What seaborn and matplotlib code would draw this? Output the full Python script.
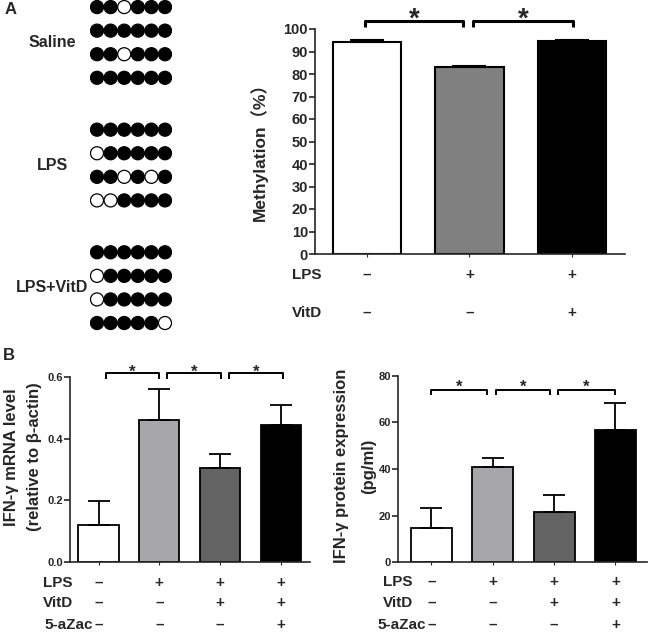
import pandas as pd
import matplotlib.pyplot as plt
import matplotlib.transforms as mtransforms
import seaborn as sns

# bisulfite clones: 1 = methylated CpG (filled), 0 = unmethylated (open)
clone_groups = ['Saline', 'LPS', 'LPS+VitD']
clone_patterns = [
    ['110111', '111111', '110111', '111111'],
    ['111111', '011111', '110101', '001111'],
    ['111111', '011111', '011111', '111110'],
]

# panel A: methylation (%)
a_groups = ['Saline', 'LPS', 'LPS+VitD']
a_mean = [94.3, 83.0, 94.6]
a_err = [1.0, 0.4, 0.6]
a_lps = ['–', '+', '+']
a_vitd = ['–', '–', '+']

# panel B: IFN-gamma mRNA and protein
b_groups = ['Ctrl', 'LPS', 'LPS+VitD', 'LPS+VitD+5-aZac']
mrna_mean = [0.12, 0.46, 0.305, 0.445]
mrna_err = [0.077, 0.103, 0.047, 0.065]
prot_mean = [14.9, 40.9, 21.6, 56.9]
prot_err = [8.2, 3.8, 7.1, 11.2]
b_lps = ['–', '+', '+', '+']
b_vitd = ['–', '–', '+', '+']
b_aza = ['–', '–', '–', '+']

sns.set_style('ticks')
plt.rcParams['font.family'] = ['Liberation Sans', 'Noto Sans CJK SC', 'DejaVu Sans']
plt.rcParams['font.weight'] = 'bold'
plt.rcParams['axes.labelweight'] = 'bold'
plt.rcParams['axes.linewidth'] = 1.2

W, H = 650, 633
fig = plt.figure(figsize=(W / 100, H / 100), dpi=100)


def px_axes(x0, y0, x1, y1):
    return fig.add_axes([x0 / W, 1 - y1 / H, (x1 - x0) / W, (y1 - y0) / H])


def bracket(ax, x1, x2, y, h, lw, sy, size):
    ax.plot([x1, x1, x2, x2], [y - h, y, y, y - h], color='black', lw=lw,
            clip_on=False, solid_capstyle='butt')
    ax.text((x1 + x2) / 2, sy, '*', ha='center', va='baseline', fontsize=size,
            clip_on=False)


def bar_panel(ax, groups, means, errs, colors, width, capsize, lw):
    df = pd.DataFrame({'group': groups, 'value': means})
    sns.barplot(data=df, x='group', y='value', hue='group', palette=colors,
                edgecolor='black', linewidth=lw, width=width, errorbar=None,
                legend=False, ax=ax)
    ax.errorbar(range(len(groups)), means, yerr=[[0] * len(groups), errs],
                fmt='none', ecolor='black', elinewidth=lw, capsize=capsize,
                capthick=lw, zorder=3)
    sns.despine(ax=ax)
    ax.set_xlabel('')
    ax.set_ylabel('')
    ax.set_xticks(range(len(groups)))
    ax.set_xticklabels([])
    ax.tick_params(axis='x', length=2.5, width=0.8)
    ax.tick_params(axis='y', length=4, width=1.2, pad=1)


def sign_table(ax, rows, labels, ys, label_x, size, ha='left'):
    tr = mtransforms.blended_transform_factory(ax.transData, ax.transAxes)
    for signs, lab, y in zip(rows, labels, ys):
        ax.text(label_x, y, lab, transform=tr, ha=ha, va='center', fontsize=size)
        for i, s in enumerate(signs):
            ax.text(i, y, s, transform=tr, ha='center', va='center', fontsize=size)


# ---- clone dot diagram ----
recs = []
for g, pats in enumerate(clone_patterns):
    for r, p in enumerate(pats):
        for c, ch in enumerate(p):
            recs.append({'col': c, 'row': g * 5.2 + r,
                         'state': 'meth' if ch == '1' else 'unmeth'})
dots = pd.DataFrame(recs)
ax0 = px_axes(90.2, 0, 171.8, 334.8)
sns.scatterplot(data=dots, x='col', y='row', hue='state',
                palette={'meth': 'black', 'unmeth': 'white'},
                edgecolor='black', linewidth=0.9, s=88, legend=False, ax=ax0)
ax0.set_xlim(-0.5, 5.5)
ax0.set_ylim(13.9, -0.3)
ax0.axis('off')
for g, name in enumerate(clone_groups):
    ax0.text(-3.3, g * 5.2 + 1.5, name, ha='center', va='center',
             fontsize=11.5, clip_on=False)

# ---- panel A bars ----
axA = px_axes(315, 29, 625, 254)
bar_panel(axA, a_groups, a_mean, a_err, ['white', '#808080', 'black'],
          0.67, 12, 1.5)
axA.set_xlim(-0.507, 2.517)
axA.set_ylim(0, 100)
axA.set_yticks(range(0, 101, 10))
axA.tick_params(axis='y', labelsize=10.5)
plt.setp(axA.get_yticklabels(), fontweight='bold')
axA.set_ylabel('Methylation（%）', fontsize=12.5)
axA.yaxis.set_label_coords(-0.152, 0.475)
bracket(axA, -0.02, 0.94, 103.7, 2.7, 2.2, 101.1, 20)
bracket(axA, 1.03, 2.01, 103.7, 2.7, 2.2, 101.1, 20)
sign_table(axA, [a_lps, a_vitd], ['LPS', 'VitD'], [-0.093, -0.262], -0.73, 11)

# ---- panel B mRNA ----
colsB = ['white', '#a7a6ab', '#636363', 'black']
axB1 = px_axes(70, 377.3, 310, 561.7)
bar_panel(axB1, b_groups, mrna_mean, mrna_err, colsB, 0.66, 8, 1.3)
axB1.set_xlim(-0.469, 3.48)
axB1.set_ylim(0, 0.6)
axB1.set_yticks([0.0, 0.2, 0.4, 0.6])
axB1.set_yticklabels(['0.0', '0.2', '0.4', '0.6'])
axB1.tick_params(axis='y', labelsize=8)
plt.setp(axB1.get_yticklabels(), fontweight='bold')
axB1.text(-0.245, 0.568, 'IFN-γ mRNA level', transform=axB1.transAxes,
          rotation=90, ha='center', va='center', fontsize=12)
axB1.text(-0.146, 0.568, '(relative to β-actin)', transform=axB1.transAxes,
          rotation=90, ha='center', va='center', fontsize=12)
for x1, x2 in [(0.12, 0.995), (1.13, 2.02), (2.15, 3.04)]:
    bracket(axB1, x1, x2, 0.613, 0.019, 1.4, 0.603, 12)
sign_table(axB1, [b_lps, b_vitd], ['LPS', 'VitD'], [-0.1155, -0.224], -0.91, 11)
sign_table(axB1, [b_aza], ['5-aZac'], [-0.343], -0.09, 11, ha='right')

# ---- panel B protein ----
axB2 = px_axes(398, 375.7, 647, 562.3)
bar_panel(axB2, b_groups, prot_mean, prot_err, colsB, 0.67, 8, 1.3)
axB2.set_xlim(-0.546, 3.515)
axB2.set_ylim(0, 80)
axB2.set_yticks(range(0, 81, 20))
axB2.tick_params(axis='y', labelsize=8)
plt.setp(axB2.get_yticklabels(), fontweight='bold')
axB2.text(-0.225, 0.516, 'IFN-γ protein expression', transform=axB2.transAxes,
          rotation=90, ha='center', va='center', fontsize=12)
axB2.text(-0.116, 0.516, '(pg/ml)', transform=axB2.transAxes,
          rotation=90, ha='center', va='center', fontsize=12)
for x1, x2 in [(0.0, 0.9), (1.05, 1.94), (2.07, 2.99)]:
    bracket(axB2, x1, x2, 73.9, 2.2, 1.4, 73.3, 12)
sign_table(axB2, [b_lps, b_vitd], ['LPS', 'VitD'], [-0.1045, -0.2185], -0.79, 11)
sign_table(axB2, [b_aza], ['5-aZac'], [-0.337], -0.09, 11, ha='right')

fig.text(5 / W, 1 - 9 / H, 'A', fontsize=12, va='center')
fig.text(3 / W, 1 - 356 / H, 'B', fontsize=12, va='center')

fig.savefig('out.png', dpi=100)
